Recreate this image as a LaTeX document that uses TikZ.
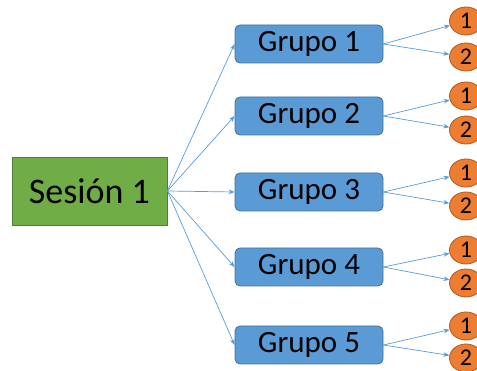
\documentclass[tikz,border=0pt]{standalone}
\usepackage{fontspec}
\setmainfont{Carlito}
\usetikzlibrary{arrows.meta,shapes.geometric}
\definecolor{sgreen}{HTML}{70AD47}
\definecolor{sgreenb}{HTML}{507E32}
\definecolor{gblue}{HTML}{5B9BD5}
\definecolor{gblueb}{HTML}{41719C}
\definecolor{corange}{HTML}{ED7D31}
\definecolor{corangeb}{HTML}{AE5A21}
\begin{document}
\begin{tikzpicture}[x=1pt,y=-1pt,
  session/.style={draw=sgreenb, fill=sgreen, line width=0.8pt,
    minimum width=155pt, minimum height=68pt, inner sep=0pt,
    font=\fontsize{36}{40}\selectfont},
  groupbox/.style={draw=gblueb, fill=gblue, line width=0.8pt, rounded corners=5pt,
    minimum width=148pt, minimum height=38pt, inner sep=0pt,
    font=\fontsize{31}{34}\selectfont},
  item/.style={ellipse, draw=corangeb, fill=corange, line width=0.8pt,
    minimum width=33pt, minimum height=28pt, inner sep=0pt,
    font=\fontsize{24}{26}\selectfont},
  link/.style={draw=gblue, line width=0.7pt, -{Stealth[length=6pt,width=4.5pt]}}]
\useasboundingbox (0,0) rectangle (477,371);
\begin{scope}
\clip (0,0) rectangle (477,371);
% session
\node[session] (s) at (89.5,191) {Sesión 1};
% groups with their two items
\foreach \i/\gy/\ay/\by in {1/44/21/57, 2/116/96/130, 3/192/173/206, 4/267/250/283, 5/345/326/358}{
  \node[groupbox] (g\i) at (309,\gy) {Grupo \i};
  \node[item] (a\i) at (466,\ay) {1};
  \node[item] (b\i) at (466,\by) {2};
  \draw[link] (s.east) -- (g\i.west);
  \draw[link] (g\i.east) -- (a\i);
  \draw[link] (g\i.east) -- (b\i);
}
\end{scope}
\end{tikzpicture}
\end{document}
